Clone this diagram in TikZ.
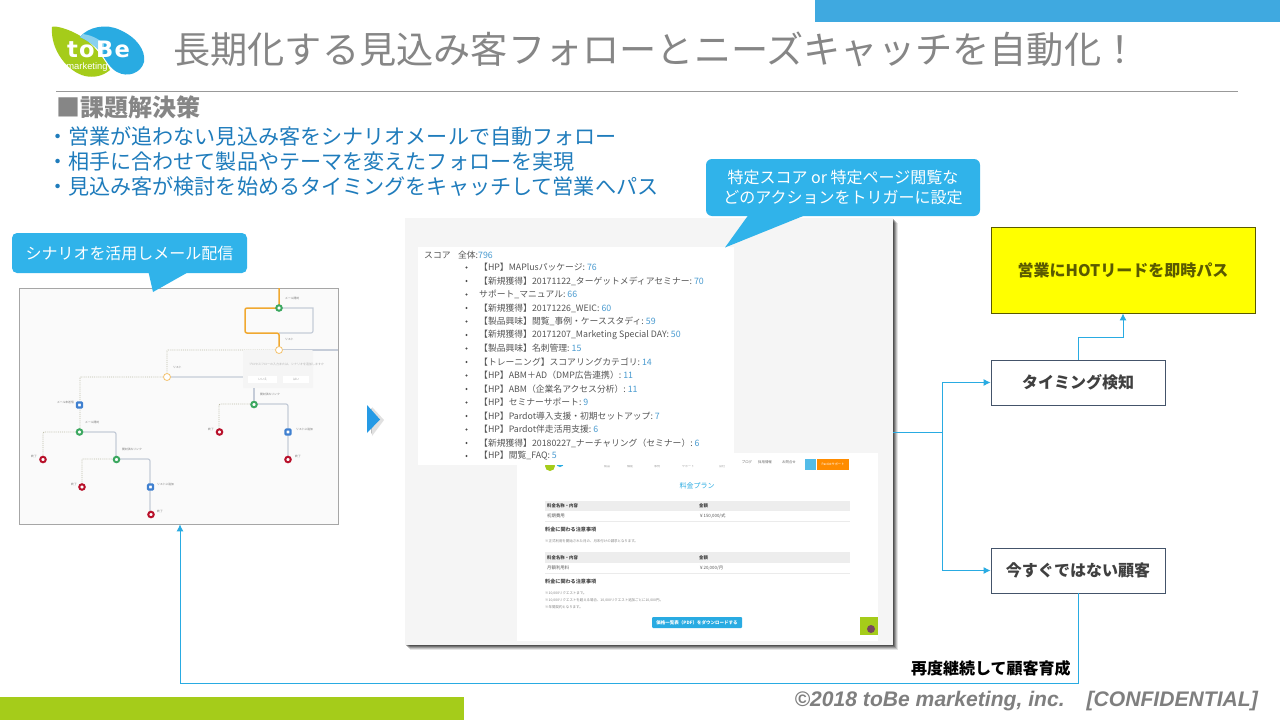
\documentclass[tikz,border=0pt]{standalone}
\usepackage{fontspec}
\setmainfont{Noto Sans CJK JP}
\newfontfamily\arialfont{Liberation Sans}
\newfontfamily\logofont[LetterSpace=6]{DejaVu Sans}
\usetikzlibrary{arrows.meta}
\definecolor{tbblue}{HTML}{29ABE2}
\definecolor{callblue}{HTML}{30B3EA}
\definecolor{barblue}{HTML}{3FA9E0}
\definecolor{tbgreen}{HTML}{A5CC1A}
\definecolor{txtgray}{HTML}{868686}
\definecolor{copygray}{HTML}{7F7F7F}
\definecolor{bodyblue}{HTML}{1F7CBC}
\definecolor{scorenum}{HTML}{4A9BD0}
\definecolor{scoretxt}{HTML}{555555}
\definecolor{boxedge}{HTML}{44546A}
\definecolor{flowgray}{HTML}{C5CCD8}
\definecolor{floworange}{HTML}{F0A830}
\definecolor{flowdot}{HTML}{BDBDA8}
\definecolor{flowgreen}{HTML}{3CA860}
\definecolor{flowblue}{HTML}{3F80D0}
\definecolor{flowred}{HTML}{B8102A}
\definecolor{hotyellow}{HTML}{FFFF00}
\definecolor{hotolive}{HTML}{5A5A00}
\newcommand{\fs}[1]{\fontsize{#1}{#1}\selectfont}
\tikzset{
  x=1pt,y=-1pt,
  lab/.style={inner sep=0pt,anchor=west,align=left},
  bodytxt/.style={inner sep=0pt,anchor=west,text height=16pt,text depth=4pt,text=bodyblue,font=\fs{21.1}},
  scorerow/.style={lab,text=scoretxt,font=\fs{8.8}},
  callout/.style={fill=callblue,draw=none},
  calltxt/.style={inner sep=0pt,text=white,align=center,font=\fs{16}},
  flowbox/.style={draw=boxedge,line width=0.8pt,fill=white,minimum width=174pt,minimum height=45pt,inner sep=0pt,font=\bfseries\fs{16},text=black!75},
  link/.style={draw=tbblue,line width=1pt},
  arrowlink/.style={link,-{Latex[length=7pt,width=7pt]}},
  fgray/.style={draw=flowgray,line width=1.2pt},
  forange/.style={draw=floworange,line width=1.5pt},
  fdot/.style={draw=flowdot,line width=0.9pt,densely dotted},
  gnode/.style={circle,fill=white,draw=flowgreen,line width=2pt,minimum size=5.5pt,inner sep=0pt},
  rnode/.style={circle,fill=white,draw=flowred,line width=2pt,minimum size=5.5pt,inner sep=0pt},
  bnode/.style={rectangle,rounded corners=0.8pt,fill=white,draw=flowblue,line width=2.2pt,minimum size=5pt,inner sep=0pt},
  onode/.style={circle,fill=white,draw=floworange!70,line width=0.8pt,minimum size=7pt,inner sep=0pt},
  tinylab/.style={lab,text=black!55,font=\fs{2.8}},
  pagetxt/.style={lab,text=black!65,font=\fs{4.4}},
  pagehead/.style={lab,text=black!75,font=\bfseries\fs{4.4}},
  pagenote/.style={lab,text=black!70,font=\bfseries\fs{5.1}},
  pagesmall/.style={lab,text=black!50,font=\fs{3.45}},
}
\begin{document}
\begin{tikzpicture}
\useasboundingbox (0,0) rectangle (1280,720);
\fill[white] (0,0) rectangle (1280,720);
% bars
\fill[barblue] (815,0) rectangle (1280,22);
\fill[tbgreen] (0,697) rectangle (464,720);
% logo
\fill[tbgreen] (52,27) .. controls (54,25) and (70,29) .. (82,37) .. controls (96,46) and (106,62) .. (110,70)
  .. controls (103,76) and (94,78) .. (85,76) .. controls (68,72) and (50,50) .. (52,27) -- cycle;
\fill[tbblue] (80,37) .. controls (88,27) and (106,23) .. (120,30) .. controls (136,37) and (146,50) .. (144,62)
  .. controls (141,73) and (128,78) .. (117,72) .. controls (110,68) and (107,62) .. (103,56)
  .. controls (97,46) and (88,41) .. (80,37) -- cycle;
\fill[tbblue!55] (80,37) .. controls (88,41) and (97,46) .. (103,56) -- (104,44) .. controls (98,38) and (90,35) .. (83,34) -- cycle;
\node[inner sep=0pt,text height=16pt,text depth=0pt,text=white,font=\logofont\bfseries\fs{22.6}] (logoword) at (98.5,49.5) {toBe};
\node[inner sep=0pt,text height=7pt,text depth=2pt,text=white,font=\arialfont\fs{9.4}] (logosub) at (87,66.5) {marketing};
% title
\node[lab,text=txtgray,font=\fs{37.2}] (title) at (173,49) {長期化する見込み客フォローとニーズキャッチを自動化！};
\draw[draw=black!40,line width=1pt] (56,91) -- (1238,91);
% heading and bullets
\node[lab,text=txtgray,font=\bfseries\fs{24}] (head) at (56,107) {■課題解決策};
\node[bodytxt] (d1) at (47,138) {・};
\node[bodytxt] (d2) at (47,163) {・};
\node[bodytxt] (d3) at (47,188.5) {・};
\node[bodytxt] (b1) at (68,138) {営業が追わない見込み客をシナリオメールで自動フォロー};
\node[bodytxt] (b2) at (68,163) {相手に合わせて製品やテーマを変えたフォローを実現};
\node[bodytxt] (b3) at (68,188.5) {見込み客が検討を始めるタイミングをキャッチして営業へパス};
% scenario frame
\node[draw=black!35,fill=black!2,line width=0.7pt,minimum width=319pt,minimum height=236pt,inner sep=0pt] (scen) at (178.5,406) {};
% flow lines
\draw[fgray] (279,308) -- (313,308) [rounded corners=2pt] -- (313,333) -- (279,333);
\draw[fgray] (279,350) -- (338,350);
\draw[fdot] (279,350) [rounded corners=1pt] -- (167,350) -- (167,377);
\draw[forange,rounded corners=2pt] (279,288) -- (279,308) -- (245,308) -- (245,333) -- (279,333) -- (279,350);
\draw[fgray,rounded corners=2pt] (167,377) -- (254,377) -- (254,404);
\draw[fdot,rounded corners=1pt] (167,377) -- (80,377) -- (80,405) -- (80,432);
\draw[fdot,rounded corners=1pt] (80,432) -- (43,432) -- (43,459);
\draw[fgray,rounded corners=2pt] (80,432) -- (116,432) -- (116,459);
\draw[fdot,rounded corners=1pt] (116,459) -- (82,459) -- (82,487);
\draw[fgray,rounded corners=2pt] (116,459) -- (150,459) -- (150,515);
\draw[fdot,rounded corners=1pt] (254,404) -- (219,404) -- (219,432);
\draw[fgray,rounded corners=2pt] (254,404) -- (288,404) -- (288,459);
% popup
\fill[black!4,rounded corners=1pt] (243,350) rectangle (313,388);
\fill[white] (248,376) rectangle (277,383);
\fill[white] (283,376) rectangle (309,383);
\node[lab,text=black!30,font=\fs{3}] (poptxt) at (249,364) {プロセスフローの入力または、シナリオを追加しますか};
\node[inner sep=0pt,text=black!40,font=\fs{3}] (popa) at (262.5,379.5) {いいえ};
\node[inner sep=0pt,text=black!40,font=\fs{3}] (popb) at (296,379.5) {はい};
\fill[flowgray] (253.3,388) rectangle (254.5,400);
% flow nodes
\node[gnode] (g1) at (279,308) {};
\node[onode] (o1) at (279,350) {};
\node[onode] (o2) at (167,377) {};
\node[bnode] (bl1) at (79.5,405) {};
\node[gnode] (g2) at (79.5,432) {};
\node[rnode] (r1) at (43,459.5) {};
\node[gnode] (g3) at (116.5,459.5) {};
\node[rnode] (r2) at (82,487) {};
\node[bnode] (bl2) at (150.5,487) {};
\node[rnode] (r3) at (151,514.5) {};
\node[gnode] (g4) at (254,404.5) {};
\node[rnode] (r4) at (219.5,432) {};
\node[bnode] (bl3) at (288,432) {};
\node[rnode] (r5) at (288,459.5) {};
% flow labels
\node[tinylab] (t1) at (285,298) {メール開封};
\node[tinylab] (t2) at (285,339) {リスト};
\node[tinylab] (t3) at (173,367.5) {リスト};
\node[tinylab,anchor=east] (t4) at (74,402) {メール未送信};
\node[tinylab] (t5) at (85,422) {メール開封};
\node[tinylab] (t6) at (122,449.5) {開封済みリンク};
\node[tinylab] (t7) at (260,394.5) {開封済みリンク};
\node[tinylab] (t8) at (296,429) {リストに追加};
\node[tinylab] (t9) at (157,484) {リストに追加};
\node[tinylab] (e1) at (31,456) {終了};
\node[tinylab] (e2) at (71,484) {終了};
\node[tinylab] (e3) at (157,511) {終了};
\node[tinylab] (e4) at (208,429) {終了};
\node[tinylab] (e5) at (295,456) {終了};
% callout left
\fill[callout] (148,270) -- (153,292) -- (192,270) -- cycle;
\node[callout,rounded corners=5pt,minimum width=235pt,minimum height=40pt,inner sep=0pt] (c1) at (129.5,253) {};
\node[calltxt] at (c1) {シナリオを活用しメール配信};
% chevron
\fill[black!25] (371,408) -- (382,420) -- (371,434) -- cycle;
\fill[black!12] (372,407) -- (384,420) -- (372,436) -- cycle;
\fill[tbblue!90!blue] (367,405) -- (380,419.5) -- (367,433) -- cycle;
% panel shadow
\foreach \dd/\op in {5/0.10,4/0.15,3/0.2,2/0.25,1/0.3}
  \fill[black,opacity=\op] (405+\dd,218+\dd) rectangle (893+\dd,645+\dd);
\node[fill=black!4,minimum width=488pt,minimum height=427pt,inner sep=0pt] (panel) at (649,431.5) {};
\node[fill=white,minimum width=361pt,minimum height=188pt,inner sep=0pt] (page) at (697.5,547) {};
% web page
\fill[tbgreen] (550,466) circle (5pt);
\fill[tbblue] (560,463) circle (4pt);
\foreach \xx/\tt in {607/製品,630/機能,657/事例,688/サポート,722/会社}
  \node[inner sep=0pt,text=black!35,font=\fs{3}] at (\xx,466) {\tt};
\node[inner sep=0pt,text=black!60,font=\fs{3.4}] (n1) at (747,462) {ブログ};
\node[inner sep=0pt,text=black!60,font=\fs{3.4}] (n2) at (765,462) {採用情報};
\node[inner sep=0pt,text=black!60,font=\fs{3.4}] (n3) at (789,462) {お問合せ};
\fill[tbblue!80] (805,459) rectangle (816,470);
\fill[orange!90!yellow] (817,459) rectangle (849,470);
\node[inner sep=0pt,text=white,font=\fs{3.2},align=center] (n4) at (833,464.5) {Pardotサポート};
\node[inner sep=0pt,text=tbblue,font=\fs{7}] (price) at (697,486) {料金プラン};
\fill[black!7] (545,501) rectangle (850,511);
\draw[black!8,line width=0.4pt] (545,521) -- (850,521);
\node[pagehead] at (547,506) {料金名称・内容};
\node[pagehead] at (699,506) {金額};
\node[pagetxt] at (547,516) {初期費用};
\node[pagetxt] at (699,516) {￥150,000/式};
\node[pagenote] at (545,530) {料金に関わる注意事項};
\node[pagesmall] at (545,541.5) {※正式利用を開始された月の、月末付けの請求となります。};
\fill[black!7] (545,552) rectangle (850,563);
\draw[black!8,line width=0.4pt] (545,573) -- (850,573);
\node[pagehead] at (547,558) {料金名称・内容};
\node[pagehead] at (699,558) {金額};
\node[pagetxt] at (547,568) {月額利用料};
\node[pagetxt] at (699,568) {￥20,000/月};
\node[pagenote] at (545,581.5) {料金に関わる注意事項};
\node[pagesmall] at (545,593) {※10,000リクエストまで。};
\node[pagesmall] at (545,600) {※10,000リクエストを超える場合、10,000リクエスト追加ごとに10,000円。};
\node[pagesmall] at (545,607) {※年間契約となります。};
\node[fill=tbblue,rounded corners=1pt,minimum width=90pt,minimum height=11pt,inner sep=0pt,text=white,font=\bfseries\fs{4.5}] (dl) at (697,622.5) {価格一覧表（PDF）をダウンロードする};
\fill[tbgreen] (860,617) rectangle (878,635);
\fill[black!60!magenta] (871,629) circle (4pt);
% score box
\node[fill=white,minimum width=316pt,minimum height=218pt,inner sep=0pt] (score) at (576,356) {};
\node[scorerow] (s0) at (424,255) {スコア\hspace{7.5pt}全体:\textcolor{scorenum}{796}};
\foreach \yy/\tt/\nn in {
 267.5/【HP】MAPlusパッケージ:/76,
 281/【新規獲得】20171122\_ターゲットメディアセミナー:/70,
 294.5/サポート\_マニュアル:/66,
 308/【新規獲得】20171226\_WEIC:/60,
 321.5/【製品興味】閲覧\_事例・ケーススタディ:/59,
 335/【新規獲得】20171207\_Marketing Special DAY:/50,
 348.5/【製品興味】名刺管理:/15,
 362/【トレーニング】スコアリングカテゴリ:/14,
 375.5/【HP】ABM＋AD（DMP広告連携）:/11,
 389/【HP】ABM（企業名アクセス分析）:/11,
 402.5/【HP】セミナーサポート:/9,
 416/【HP】Pardot導入支援・初期セットアップ:/7,
 429.5/【HP】Pardot伴走活用支援:/6,
 443/【新規獲得】20180227\_ナーチャリング（セミナー）:/6,
 456/【HP】閲覧\_FAQ:/5}{
 \fill[black!70] (466.5,\yy) circle (1.2pt);
 \node[scorerow] at (479,\yy) {\tt\ \textcolor{scorenum}{\nn}};
}
% callout right
\fill[callout] (752,210) -- (725,247.5) -- (818,210) -- cycle;
\node[callout,rounded corners=6pt,minimum width=274pt,minimum height=57pt,inner sep=0pt] (c2) at (843,187.5) {};
\node[calltxt] at (c2) {特定スコア or 特定ページ閲覧な\\[4pt]どのアクションをトリガーに設定};
% right boxes
\node[flowbox] (timing) at (1078,382.5) {タイミング検知};
\node[flowbox] (now) at (1078,570.5) {今すぐではない顧客};
\node[draw=hotolive,fill=hotyellow,line width=0.8pt,minimum width=264pt,minimum height=86pt,inner sep=0pt,font=\bfseries\fs{16},text=hotolive] (hot) at (1123,270) {営業にHOTリードを即時パス};
% connectors
\coordinate (branch) at (942,432);
\coordinate (elbow) at (1123,337);
\coordinate (back) at (180,683);
\draw[link] (panel.east |- branch) -- (branch);
\draw[arrowlink] (branch) |- (timing.west);
\draw[arrowlink] (branch) |- (now.west);
\draw[arrowlink] (timing.north) |- (elbow) -- (hot.south);
\draw[arrowlink] (now.south) |- (back) -- (back |- scen.south);
% footer
\node[lab,text=black,font=\bfseries\fs{16}] (again) at (911,668.5) {再度継続して顧客育成};
\node[lab,anchor=east,text=copygray,font=\arialfont\bfseries\itshape\fs{21.1}] (copy) at (1258,701) {©2018 toBe marketing, inc.\hspace{22pt}[CONFIDENTIAL]};
\end{tikzpicture}
\end{document}
